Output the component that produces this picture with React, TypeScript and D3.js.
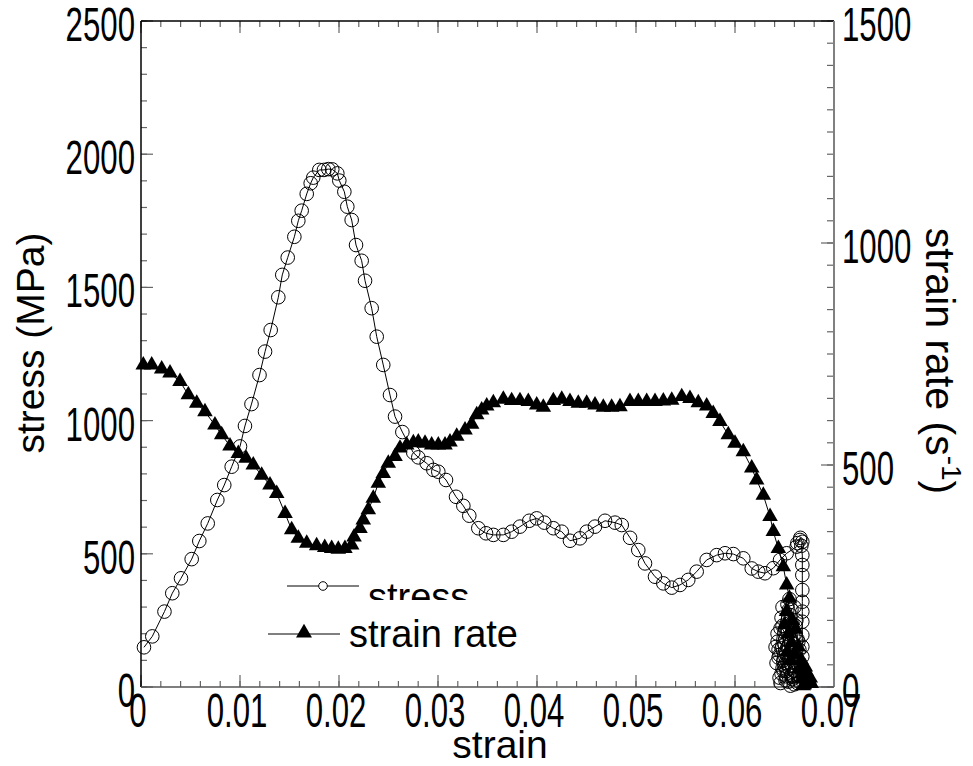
import React from "react";
import * as d3 from "d3";

const W = 973;
const H = 766;

// stress curve (strain, MPa)
const stressStrain = [
  0.0003, 0.00114, 0.00237, 0.00316, 0.00404, 0.00512, 0.00589, 0.00674, 0.00771, 0.00841,
  0.00916, 0.01, 0.0105, 0.01116, 0.01197, 0.01253, 0.0131, 0.01387, 0.01427, 0.01482,
  0.01549, 0.01589, 0.01623, 0.01674, 0.01714, 0.0174, 0.01801, 0.01848, 0.01892, 0.01932,
  0.01983, 0.02003, 0.02054, 0.02084, 0.02128, 0.02172, 0.02229, 0.02263, 0.0233, 0.02381,
  0.02447, 0.02515, 0.02566, 0.0264, 0.0275, 0.02801, 0.02886, 0.02953, 0.03003, 0.03081,
  0.03182, 0.03256, 0.03316, 0.03407, 0.03485, 0.03559, 0.0366, 0.03744, 0.03828, 0.03922,
  0.03997, 0.04074, 0.04165, 0.0425, 0.04333, 0.04434, 0.04502, 0.04586, 0.04687, 0.04788,
  0.04856, 0.0494, 0.05023, 0.05091, 0.05192, 0.05276, 0.05361, 0.05444, 0.05528, 0.05613,
  0.05714, 0.05815, 0.05899, 0.05983, 0.06084, 0.06169, 0.06235, 0.06303, 0.06387, 0.06455,
  0.06522, 0.06623, 0.06657, 0.0663, 0.0666, 0.0668, 0.0667, 0.0668, 0.0668, 0.0668,
  0.0668, 0.0668, 0.0668, 0.0668, 0.0668, 0.0668, 0.0668, 0.0667, 0.0666,
  0.0665, 0.066, 0.0652, 0.0646, 0.0648, 0.0655, 0.066, 0.0658, 0.0651, 0.0644,
  0.0642, 0.0647, 0.0654, 0.066, 0.0657, 0.065, 0.0645, 0.0643, 0.0648, 0.0656,
  0.0662, 0.0659, 0.0653, 0.0649, 0.0652, 0.0658, 0.0663, 0.0661, 0.0655, 0.065,
  0.0652, 0.0658, 0.0663, 0.066, 0.0655, 0.0652, 0.0656, 0.0649, 0.0644, 0.0641,
  0.0643, 0.0647, 0.0653, 0.0657, 0.0661, 0.0664, 0.0659, 0.0654, 0.0648, 0.0645,
  0.0646, 0.0651, 0.0657, 0.0662, 0.0665, 0.0661, 0.0656, 0.065, 0.0647, 0.0651,
];
const stressMPa = [
  149, 190, 283, 352, 408, 480, 548, 614, 702, 758,
  827, 903, 980, 1062, 1171, 1259, 1340, 1463, 1547, 1612,
  1690, 1750, 1788, 1851, 1891, 1912, 1941, 1941, 1944, 1943,
  1928, 1901, 1859, 1803, 1753, 1659, 1600, 1525, 1422, 1315,
  1209, 1096, 1015, 957, 880, 862, 840, 815, 808, 777,
  714, 680, 643, 596, 577, 571, 571, 583, 602, 624,
  633, 617, 596, 583, 549, 558, 583, 602, 624, 617,
  608, 560, 514, 464, 414, 389, 373, 383, 402, 433,
  477, 495, 502, 499, 483, 445, 433, 427, 446, 477,
  502, 527, 552, 540, 560, 545, 530, 495, 458, 420,
  364, 320, 283, 245, 195, 151, 114, 75, 40,
  20, 60, 130, 220, 300, 330, 300, 240, 180, 140,
  90, 50, 20, 10, 40, 80, 120, 170, 230, 270,
  250, 190, 150, 100, 60, 30, 15, 70, 110, 160,
  210, 220, 180, 120, 80, 40, 5, 60, 110, 150,
  200, 260, 310, 290, 230, 170, 130, 95, 70, 35,
  15, 25, 45, 85, 140, 200, 240, 205, 145, 90,
];

// strain rate curve (strain, 1/s)
const rateStrain = [
  0.00023, 0.00108, 0.00209, 0.00293, 0.00394, 0.00478, 0.00563, 0.00646, 0.00747, 0.00815,
  0.00899, 0.00983, 0.01061, 0.01134, 0.01219, 0.01303, 0.01371, 0.01455, 0.01522, 0.01589,
  0.01674, 0.01774, 0.01856, 0.01926, 0.01993, 0.0206, 0.02128, 0.02152, 0.02212, 0.02245,
  0.02296, 0.02346, 0.02397, 0.02447, 0.02498, 0.02566, 0.02616, 0.02684, 0.02751, 0.02801,
  0.02869, 0.02936, 0.03003, 0.03071, 0.03121, 0.03189, 0.03273, 0.0334, 0.03391, 0.03441,
  0.03492, 0.03559, 0.0366, 0.03744, 0.03828, 0.03912, 0.03997, 0.04064, 0.04165, 0.0425,
  0.04333, 0.04417, 0.04502, 0.04586, 0.0467, 0.04754, 0.04838, 0.04939, 0.05023, 0.05108,
  0.05192, 0.05276, 0.05361, 0.05462, 0.05545, 0.05629, 0.05714, 0.0578, 0.05848, 0.05932,
  0.06, 0.06084, 0.06169, 0.06219, 0.06286, 0.06354, 0.06387, 0.06438, 0.06488, 0.06522,
  0.0655, 0.0652, 0.065, 0.0654, 0.0658, 0.0661, 0.0657, 0.0653, 0.0656, 0.066,
  0.0664, 0.0667, 0.0665, 0.0668, 0.0671, 0.0673, 0.0675, 0.0677, 0.0676, 0.0673,
  0.067, 0.0668, 0.0672, 0.0674, 0.0669,
];
const rateValues = [
  725, 725, 716, 707, 688, 658, 639, 620, 590, 568,
  543, 526, 515, 500, 477, 455, 436, 391, 354, 335,
  324, 318, 314, 312, 310, 312, 320, 338, 357, 376,
  399, 425, 459, 481, 504, 519, 538, 545, 550, 552,
  549, 545, 545, 545, 552, 565, 579, 592, 613, 624,
  633, 640, 648, 645, 645, 643, 635, 630, 645, 648,
  643, 639, 639, 635, 630, 630, 631, 643, 643, 643,
  643, 644, 646, 654, 650, 640, 633, 616, 598, 568,
  549, 530, 493, 466, 432, 384, 350, 312, 271, 230,
  200, 170, 140, 120, 150, 130, 100, 80, 60, 75,
  90, 60, 40, 30, 45, 25, 15, 8, 20, 10,
  5, 18, 35, 12, 3,
];

const xTickValues = [0, 0.01, 0.02, 0.03, 0.04, 0.05, 0.06, 0.07];
const xTickLabels = ["0", "0.01", "0.02", "0.03", "0.04", "0.05", "0.06", "0.07"];
const stressTicks = [0, 500, 1000, 1500, 2000, 2500];
const rateTicks = [0, 500, 1000, 1500];
const legendLabels = ["stress", "strain rate"];

const L = 141, R = 834, T = 21, B = 687;
const x = d3.scaleLinear().domain([0, 0.07]).range([L, R]);
const yL = d3.scaleLinear().domain([0, 2500]).range([B, T]);
const yR = d3.scaleLinear().domain([0, 1500]).range([B, T]);

const FONT = "'Liberation Sans', Arial, sans-serif";
const TICK_FS = 48;
const SQ = 0.65; // tick labels are horizontally squeezed in the original

function Num({ x: tx, y: ty, anchor, children }: any) {
  return (
    <text
      transform={`translate(${tx},${ty}) scale(${SQ},1)`}
      textAnchor={anchor}
      fontSize={TICK_FS}
      fontFamily={FONT}
      fill="#000"
    >
      {children}
    </text>
  );
}

export default function App() {
  const stressPts = stressStrain.map((s, i) => [x(s), yL(stressMPa[i])] as [number, number]);
  const ratePts = rateStrain.map((s, i) => [x(s), yR(rateValues[i])] as [number, number]);
  const line = d3.line();
  const tri = d3.symbol(d3.symbolTriangle, 105)() as string;
  const triLegend = d3.symbol(d3.symbolTriangle, 110)() as string;

  const xMinor = x.ticks(35);
  const lMinor = yL.ticks(25);
  const rMinor = yR.ticks(30);
  const tickCol = "#666";

  return (
    <svg width={W} height={H} style={{ position: "absolute", left: 0, top: 0, background: "#fff" }}>
      <rect width={W} height={H} fill="#fff" />

      {/* ticks */}
      <g stroke={tickCol} strokeWidth={1.2}>
        {xMinor.map((v, i) => (
          <g key={"xm" + i}>
            <line x1={x(v)} x2={x(v)} y1={B} y2={B - 6} />
            <line x1={x(v)} x2={x(v)} y1={T} y2={T + 6} />
          </g>
        ))}
        {xTickValues.map((v, i) => (
          <g key={"xM" + i}>
            <line x1={x(v)} x2={x(v)} y1={B} y2={B - 12} />
            <line x1={x(v)} x2={x(v)} y1={T} y2={T + 12} />
          </g>
        ))}
        {lMinor.map((v, i) => (
          <line key={"lm" + i} x1={L} x2={L + 6} y1={yL(v)} y2={yL(v)} />
        ))}
        {stressTicks.map((v, i) => (
          <line key={"lM" + i} x1={L} x2={L + 12} y1={yL(v)} y2={yL(v)} />
        ))}
        {rMinor.map((v, i) => (
          <line key={"rm" + i} x1={R} x2={R - 7} y1={yR(v)} y2={yR(v)} />
        ))}
        {rateTicks.map((v, i) => (
          <line key={"rM" + i} x1={R} x2={R - 13} y1={yR(v)} y2={yR(v)} />
        ))}
      </g>

      {/* axis lines */}
      <line x1={L} x2={L} y1={T} y2={B} stroke="#000" strokeWidth={1.5} />
      <line x1={L} x2={R} y1={T} y2={T} stroke="#000" strokeWidth={1.5} />
      <line x1={R} x2={R} y1={T} y2={B} stroke="#808080" strokeWidth={2} />
      <line x1={L} x2={R} y1={B} y2={B} stroke="#555" strokeWidth={1.5} />

      {/* stress series */}
      <path d={line(stressPts) || ""} fill="none" stroke="#000" strokeWidth={1} />
      {stressPts.map((p, i) => (
        <circle key={"c" + i} cx={p[0]} cy={p[1]} r={6.8} fill="none" stroke="#000" strokeWidth={1} />
      ))}

      {/* strain rate series */}
      <path d={line(ratePts) || ""} fill="none" stroke="#000" strokeWidth={1} />
      {ratePts.map((p, i) => (
        <path key={"t" + i} d={tri} transform={`translate(${p[0]},${p[1]})`} fill="#000" />
      ))}

      {/* tick labels */}
      {stressTicks.map((v, i) => (
        <Num key={"ll" + i} x={135} y={yL(v) + 20} anchor="end">{v}</Num>
      ))}
      {rateTicks.map((v, i) => (
        <Num key={"rl" + i} x={842} y={yR(v) + 20} anchor="start">{v}</Num>
      ))}
      {xTickValues.map((v, i) => (
        <Num key={"xl" + i} x={x(v) - 3} y={727} anchor="middle">{xTickLabels[i]}</Num>
      ))}

      {/* axis titles */}
      <text x={500} y={758} textAnchor="middle" fontSize={39} fontFamily={FONT}>strain</text>
      <text
        transform={`translate(44,343) rotate(-90)`}
        textAnchor="middle"
        fontSize={39}
        fontFamily={FONT}
      >
        stress (MPa)
      </text>
      <text
        transform={`translate(926,361) rotate(90)`}
        textAnchor="middle"
        fontSize={41}
        fontFamily={FONT}
      >
        strain rate (s<tspan dy={-16} fontSize={28}>-1</tspan><tspan dy={16}>)</tspan>
      </text>

      {/* legend */}
      <g>
        <line x1={287} x2={359} y1={586} y2={586} stroke="#000" strokeWidth={1} />
        <circle cx={323} cy={586} r={4.3} fill="#fff" stroke="#000" strokeWidth={1} />
        <text x={368} y={610} fontSize={38} fontFamily={FONT}>{legendLabels[0]}</text>
        <rect x={262} y={600} width={265} height={62} fill="#fff" />
        <line x1={268} x2={340} y1={634} y2={634} stroke="#000" strokeWidth={1} />
        <path d={triLegend} transform="translate(304,633)" fill="#000" />
        <text x={349} y={647} fontSize={38} fontFamily={FONT}>{legendLabels[1]}</text>
      </g>
    </svg>
  );
}
